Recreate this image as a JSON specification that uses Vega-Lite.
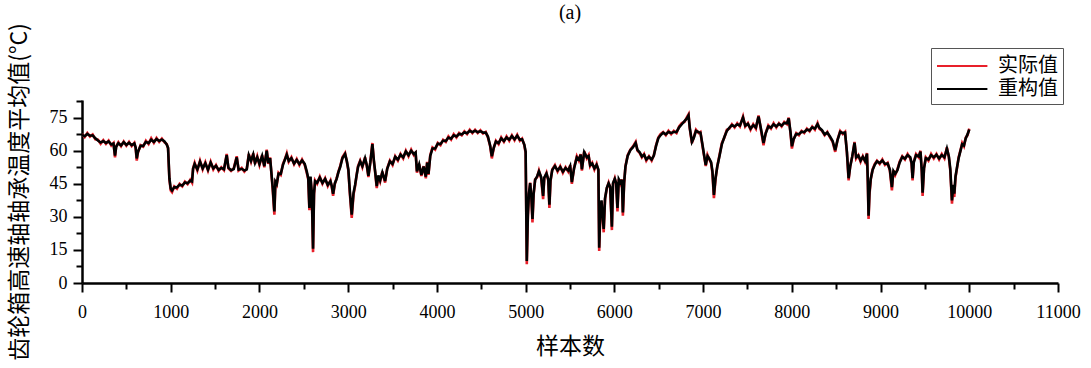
{
  "$schema": "https://vega.github.io/schema/vega-lite/v6.json",
  "width": 976,
  "height": 183,
  "autosize": {"type": "none"},
  "padding": {"left": 82, "top": 100, "right": 33, "bottom": 85},
  "background": "white",
  "title": {"text": "(a)", "fontSize": 20, "font": "Liberation Serif", "fontWeight": "normal", "frame": "group", "offset": 0, "anchor": "middle", "color": "#000"},
  "config": {
    "view": {"stroke": null},
    "axis": {"grid": false, "domainColor": "#000", "tickColor": "#000", "labelColor": "#000", "titleColor": "#000"}
  },
  "data": {"values": [
    {"x":0,"a":67.5,"r":67.2},{"x":30,"a":66.2,"r":66.6},{"x":60,"a":68.0,"r":67.6},{"x":90,"a":66.4,"r":66.8},{"x":120,"a":67.4,"r":67.0},{"x":150,"a":65.2,"r":65.6},{"x":180,"a":65.0,"r":64.6},{"x":210,"a":63.2,"r":63.7},{"x":240,"a":64.8,"r":64.4},{"x":270,"a":63.1,"r":63.5},{"x":300,"a":64.6,"r":64.2},{"x":330,"a":62.4,"r":62.8},{"x":355,"a":63.5,"r":63.2},{"x":372,"a":57.0,"r":57.8},{"x":385,"a":62.0,"r":61.8},{"x":410,"a":63.8,"r":63.4},{"x":440,"a":62.0,"r":62.4},{"x":470,"a":64.2,"r":63.9},{"x":500,"a":62.3,"r":62.6},{"x":530,"a":64.0,"r":63.6},{"x":560,"a":62.1,"r":62.5},{"x":590,"a":63.6,"r":63.3},{"x":605,"a":61.0,"r":61.4},{"x":617,"a":55.5,"r":56.5},{"x":630,"a":59.0,"r":59.4},{"x":660,"a":62.5,"r":62.2},{"x":690,"a":61.8,"r":62.2},{"x":720,"a":64.5,"r":64.0},{"x":750,"a":63.0,"r":63.4},{"x":780,"a":65.6,"r":65.0},{"x":810,"a":63.6,"r":64.0},{"x":840,"a":65.8,"r":65.3},{"x":870,"a":64.0,"r":64.4},{"x":900,"a":65.5,"r":65.1},{"x":930,"a":63.8,"r":64.2},{"x":955,"a":63.0,"r":62.8},{"x":970,"a":61.0,"r":61.3},{"x":985,"a":47.0,"r":47.5},{"x":1000,"a":42.0,"r":42.8},{"x":1015,"a":41.2,"r":42.0},{"x":1040,"a":43.8,"r":43.5},{"x":1070,"a":42.8,"r":43.4},{"x":1100,"a":45.0,"r":44.6},{"x":1130,"a":43.8,"r":44.2},{"x":1160,"a":46.0,"r":45.6},{"x":1190,"a":44.8,"r":45.2},{"x":1220,"a":46.8,"r":46.4},{"x":1240,"a":45.5,"r":46.0},{"x":1252,"a":52.0,"r":51.8},{"x":1270,"a":54.5,"r":54.0},{"x":1300,"a":51.0,"r":51.5},{"x":1330,"a":55.5,"r":55.0},{"x":1360,"a":51.5,"r":52.0},{"x":1390,"a":54.8,"r":54.3},{"x":1420,"a":51.0,"r":51.4},{"x":1450,"a":55.0,"r":54.6},{"x":1480,"a":51.5,"r":52.0},{"x":1510,"a":53.5,"r":53.2},{"x":1540,"a":50.8,"r":51.3},{"x":1570,"a":52.5,"r":52.2},{"x":1600,"a":51.2,"r":51.6},{"x":1631,"a":58.5,"r":58.0},{"x":1650,"a":52.0,"r":52.3},{"x":1680,"a":50.8,"r":51.2},{"x":1710,"a":52.0,"r":51.7},{"x":1744,"a":57.5,"r":57.0},{"x":1765,"a":51.0,"r":51.4},{"x":1800,"a":52.2,"r":51.8},{"x":1830,"a":50.5,"r":51.0},{"x":1857,"a":51.8,"r":51.5},{"x":1880,"a":58.5,"r":58.0},{"x":1905,"a":55.0,"r":55.4},{"x":1930,"a":58.8,"r":58.3},{"x":1950,"a":54.0,"r":54.5},{"x":1975,"a":57.5,"r":57.0},{"x":2000,"a":53.5,"r":54.0},{"x":2030,"a":58.0,"r":57.6},{"x":2055,"a":52.5,"r":53.0},{"x":2082,"a":60.5,"r":60.0},{"x":2100,"a":54.0,"r":54.4},{"x":2120,"a":57.0,"r":56.6},{"x":2140,"a":47.0,"r":47.6},{"x":2150,"a":42.0,"r":43.0},{"x":2168,"a":31.0,"r":32.5},{"x":2180,"a":45.5,"r":46.0},{"x":2195,"a":44.5,"r":45.0},{"x":2215,"a":50.0,"r":49.6},{"x":2240,"a":49.0,"r":49.5},{"x":2265,"a":54.0,"r":53.6},{"x":2290,"a":56.5,"r":56.2},{"x":2308,"a":58.8,"r":58.2},{"x":2330,"a":55.0,"r":55.4},{"x":2360,"a":57.0,"r":56.6},{"x":2390,"a":53.8,"r":54.2},{"x":2420,"a":56.2,"r":55.8},{"x":2450,"a":53.5,"r":54.0},{"x":2480,"a":56.0,"r":55.6},{"x":2510,"a":53.5,"r":54.0},{"x":2533,"a":50.0,"r":50.6},{"x":2550,"a":47.0,"r":47.5},{"x":2563,"a":33.0,"r":34.0},{"x":2575,"a":48.0,"r":48.3},{"x":2590,"a":40.0,"r":41.0},{"x":2604,"a":14.0,"r":15.5},{"x":2615,"a":40.0,"r":40.8},{"x":2627,"a":46.5,"r":46.2},{"x":2650,"a":45.0,"r":45.5},{"x":2680,"a":48.2,"r":47.8},{"x":2710,"a":45.0,"r":45.4},{"x":2740,"a":47.5,"r":47.2},{"x":2770,"a":44.0,"r":44.5},{"x":2800,"a":46.5,"r":46.2},{"x":2815,"a":43.5,"r":44.0},{"x":2830,"a":39.5,"r":40.5},{"x":2850,"a":45.0,"r":45.3},{"x":2870,"a":47.5,"r":47.2},{"x":2890,"a":50.5,"r":50.3},{"x":2910,"a":53.0,"r":52.6},{"x":2935,"a":57.0,"r":56.6},{"x":2965,"a":59.0,"r":58.5},{"x":2985,"a":55.0,"r":55.3},{"x":3002,"a":51.0,"r":51.5},{"x":3020,"a":40.0,"r":41.0},{"x":3040,"a":29.5,"r":31.0},{"x":3060,"a":40.0,"r":40.8},{"x":3078,"a":44.0,"r":44.5},{"x":3095,"a":49.0,"r":48.8},{"x":3111,"a":53.0,"r":52.6},{"x":3135,"a":55.5,"r":55.2},{"x":3160,"a":52.5,"r":53.0},{"x":3190,"a":57.0,"r":56.6},{"x":3210,"a":53.0,"r":53.4},{"x":3228,"a":48.0,"r":48.6},{"x":3250,"a":55.0,"r":54.8},{"x":3273,"a":63.5,"r":63.0},{"x":3290,"a":55.0,"r":55.4},{"x":3303,"a":50.5,"r":51.0},{"x":3322,"a":43.0,"r":44.0},{"x":3340,"a":48.5,"r":48.8},{"x":3360,"a":46.0,"r":46.5},{"x":3385,"a":50.5,"r":50.2},{"x":3416,"a":45.5,"r":46.2},{"x":3440,"a":52.0,"r":51.8},{"x":3470,"a":55.5,"r":55.2},{"x":3500,"a":53.5,"r":54.0},{"x":3530,"a":57.5,"r":57.2},{"x":3560,"a":55.5,"r":56.0},{"x":3590,"a":58.5,"r":58.2},{"x":3620,"a":56.5,"r":57.0},{"x":3650,"a":60.0,"r":59.6},{"x":3680,"a":57.5,"r":58.0},{"x":3710,"a":60.5,"r":60.0},{"x":3740,"a":58.0,"r":58.5},{"x":3760,"a":59.0,"r":59.2},{"x":3775,"a":50.0,"r":50.6},{"x":3800,"a":54.0,"r":53.8},{"x":3825,"a":48.5,"r":49.0},{"x":3850,"a":53.0,"r":52.8},{"x":3875,"a":47.5,"r":48.2},{"x":3890,"a":55.0,"r":54.6},{"x":3905,"a":49.0,"r":49.5},{"x":3925,"a":58.0,"r":57.6},{"x":3950,"a":61.5,"r":61.0},{"x":3980,"a":60.5,"r":61.0},{"x":4010,"a":63.5,"r":63.2},{"x":4040,"a":62.5,"r":63.0},{"x":4070,"a":65.0,"r":64.6},{"x":4100,"a":64.0,"r":64.4},{"x":4130,"a":66.5,"r":66.0},{"x":4160,"a":65.0,"r":65.5},{"x":4190,"a":67.5,"r":67.0},{"x":4220,"a":66.0,"r":66.5},{"x":4250,"a":68.0,"r":67.6},{"x":4280,"a":67.0,"r":67.4},{"x":4310,"a":68.8,"r":68.4},{"x":4340,"a":67.5,"r":67.9},{"x":4370,"a":69.5,"r":69.0},{"x":4400,"a":68.0,"r":68.4},{"x":4430,"a":69.5,"r":69.1},{"x":4460,"a":68.0,"r":68.4},{"x":4490,"a":69.3,"r":68.9},{"x":4520,"a":67.8,"r":68.2},{"x":4550,"a":68.5,"r":68.2},{"x":4575,"a":66.0,"r":66.4},{"x":4600,"a":62.0,"r":62.4},{"x":4619,"a":56.5,"r":57.5},{"x":4640,"a":61.0,"r":61.3},{"x":4665,"a":64.5,"r":64.2},{"x":4695,"a":63.0,"r":63.4},{"x":4725,"a":66.0,"r":65.6},{"x":4755,"a":64.0,"r":64.4},{"x":4785,"a":66.5,"r":66.0},{"x":4815,"a":64.5,"r":65.0},{"x":4845,"a":67.0,"r":66.6},{"x":4875,"a":64.8,"r":65.2},{"x":4905,"a":67.2,"r":66.8},{"x":4935,"a":64.5,"r":65.0},{"x":4960,"a":65.5,"r":65.2},{"x":4985,"a":62.5,"r":62.8},{"x":5000,"a":59.0,"r":59.6},{"x":5013,"a":8.5,"r":10.0},{"x":5025,"a":30.0,"r":31.0},{"x":5037,"a":40.0,"r":40.5},{"x":5051,"a":45.5,"r":45.3},{"x":5065,"a":38.0,"r":38.8},{"x":5077,"a":27.5,"r":29.0},{"x":5090,"a":40.0,"r":40.6},{"x":5107,"a":47.0,"r":46.8},{"x":5130,"a":48.0,"r":48.4},{"x":5150,"a":51.0,"r":50.6},{"x":5175,"a":47.5,"r":48.0},{"x":5197,"a":38.0,"r":39.5},{"x":5210,"a":47.5,"r":47.8},{"x":5235,"a":50.0,"r":49.6},{"x":5255,"a":46.5,"r":47.0},{"x":5268,"a":34.0,"r":35.5},{"x":5280,"a":46.0,"r":46.5},{"x":5300,"a":51.5,"r":51.2},{"x":5330,"a":53.5,"r":53.0},{"x":5360,"a":50.5,"r":51.0},{"x":5390,"a":53.0,"r":52.6},{"x":5420,"a":50.0,"r":50.5},{"x":5450,"a":52.5,"r":52.2},{"x":5480,"a":50.5,"r":51.0},{"x":5502,"a":53.5,"r":53.0},{"x":5521,"a":45.0,"r":45.8},{"x":5545,"a":52.0,"r":51.8},{"x":5577,"a":57.5,"r":57.0},{"x":5600,"a":55.5,"r":56.0},{"x":5620,"a":58.5,"r":58.2},{"x":5634,"a":51.0,"r":51.6},{"x":5660,"a":59.8,"r":59.3},{"x":5690,"a":56.5,"r":57.0},{"x":5710,"a":58.0,"r":57.6},{"x":5727,"a":53.0,"r":53.4},{"x":5750,"a":54.5,"r":54.2},{"x":5775,"a":51.5,"r":52.0},{"x":5800,"a":54.0,"r":53.6},{"x":5820,"a":51.0,"r":51.5},{"x":5829,"a":14.5,"r":16.0},{"x":5840,"a":30.0,"r":31.0},{"x":5855,"a":37.0,"r":37.5},{"x":5870,"a":28.0,"r":29.0},{"x":5880,"a":23.0,"r":24.5},{"x":5895,"a":38.0,"r":38.5},{"x":5915,"a":43.0,"r":43.2},{"x":5935,"a":45.5,"r":45.2},{"x":5953,"a":43.0,"r":43.6},{"x":5972,"a":24.0,"r":25.5},{"x":5985,"a":45.0,"r":45.3},{"x":6005,"a":47.5,"r":47.2},{"x":6020,"a":45.0,"r":45.4},{"x":6035,"a":32.5,"r":34.0},{"x":6050,"a":47.0,"r":47.0},{"x":6070,"a":45.0,"r":45.5},{"x":6085,"a":47.0,"r":46.8},{"x":6096,"a":30.5,"r":32.0},{"x":6110,"a":45.0,"r":45.5},{"x":6125,"a":53.0,"r":52.8},{"x":6150,"a":58.0,"r":57.6},{"x":6180,"a":60.5,"r":60.2},{"x":6210,"a":62.0,"r":61.6},{"x":6240,"a":64.0,"r":63.5},{"x":6260,"a":60.0,"r":60.4},{"x":6285,"a":59.0,"r":59.3},{"x":6310,"a":57.0,"r":57.4},{"x":6335,"a":58.5,"r":58.2},{"x":6360,"a":55.5,"r":56.0},{"x":6390,"a":57.5,"r":57.2},{"x":6420,"a":55.5,"r":56.0},{"x":6445,"a":58.0,"r":57.8},{"x":6470,"a":62.5,"r":62.2},{"x":6495,"a":66.0,"r":65.6},{"x":6520,"a":67.5,"r":67.0},{"x":6550,"a":68.5,"r":68.2},{"x":6580,"a":67.0,"r":67.4},{"x":6610,"a":69.0,"r":68.6},{"x":6640,"a":67.5,"r":68.0},{"x":6670,"a":69.0,"r":68.6},{"x":6700,"a":68.0,"r":68.4},{"x":6730,"a":71.0,"r":70.6},{"x":6760,"a":72.5,"r":72.0},{"x":6790,"a":73.0,"r":73.4},{"x":6815,"a":75.0,"r":74.5},{"x":6836,"a":76.5,"r":76.0},{"x":6850,"a":70.0,"r":70.4},{"x":6874,"a":63.5,"r":64.0},{"x":6895,"a":66.0,"r":65.8},{"x":6920,"a":69.5,"r":69.0},{"x":6950,"a":68.0,"r":68.4},{"x":6970,"a":68.5,"r":68.2},{"x":6990,"a":63.0,"r":63.5},{"x":7010,"a":58.0,"r":58.4},{"x":7030,"a":53.0,"r":53.5},{"x":7050,"a":58.0,"r":57.6},{"x":7070,"a":56.0,"r":56.4},{"x":7090,"a":54.5,"r":54.8},{"x":7105,"a":50.0,"r":50.8},{"x":7122,"a":38.5,"r":40.0},{"x":7140,"a":47.0,"r":47.5},{"x":7160,"a":53.0,"r":52.8},{"x":7185,"a":58.0,"r":57.6},{"x":7212,"a":63.5,"r":63.0},{"x":7240,"a":66.0,"r":66.2},{"x":7268,"a":69.5,"r":69.0},{"x":7295,"a":70.0,"r":70.4},{"x":7325,"a":72.0,"r":71.6},{"x":7355,"a":70.5,"r":71.0},{"x":7385,"a":72.5,"r":72.0},{"x":7415,"a":71.0,"r":71.4},{"x":7450,"a":75.5,"r":75.0},{"x":7475,"a":71.0,"r":71.4},{"x":7505,"a":72.5,"r":72.2},{"x":7535,"a":69.5,"r":70.0},{"x":7565,"a":72.0,"r":71.6},{"x":7595,"a":70.0,"r":70.5},{"x":7625,"a":76.0,"r":75.5},{"x":7650,"a":70.0,"r":70.4},{"x":7681,"a":62.5,"r":63.5},{"x":7705,"a":68.0,"r":67.8},{"x":7735,"a":71.5,"r":71.0},{"x":7765,"a":70.0,"r":70.5},{"x":7795,"a":72.5,"r":72.0},{"x":7825,"a":70.5,"r":71.0},{"x":7855,"a":72.5,"r":72.2},{"x":7885,"a":71.0,"r":71.4},{"x":7915,"a":73.0,"r":72.6},{"x":7945,"a":72.0,"r":72.4},{"x":7965,"a":75.0,"r":74.6},{"x":7985,"a":68.0,"r":68.5},{"x":8001,"a":61.0,"r":62.0},{"x":8020,"a":65.0,"r":65.2},{"x":8050,"a":68.0,"r":67.6},{"x":8080,"a":67.0,"r":67.5},{"x":8110,"a":69.0,"r":68.6},{"x":8140,"a":68.0,"r":68.4},{"x":8170,"a":70.0,"r":69.6},{"x":8200,"a":68.8,"r":69.2},{"x":8230,"a":71.0,"r":70.6},{"x":8260,"a":69.5,"r":70.0},{"x":8290,"a":72.5,"r":72.0},{"x":8310,"a":70.0,"r":70.4},{"x":8340,"a":69.0,"r":69.3},{"x":8370,"a":67.0,"r":67.4},{"x":8400,"a":68.5,"r":68.2},{"x":8430,"a":66.0,"r":66.5},{"x":8460,"a":64.0,"r":64.4},{"x":8489,"a":59.5,"r":60.2},{"x":8515,"a":65.0,"r":64.8},{"x":8545,"a":69.0,"r":68.6},{"x":8575,"a":67.5,"r":68.0},{"x":8600,"a":68.5,"r":68.2},{"x":8621,"a":59.0,"r":59.5},{"x":8640,"a":46.5,"r":47.5},{"x":8658,"a":53.0,"r":52.8},{"x":8680,"a":57.0,"r":57.2},{"x":8707,"a":64.0,"r":63.6},{"x":8725,"a":56.5,"r":57.0},{"x":8750,"a":58.0,"r":57.8},{"x":8775,"a":55.0,"r":55.5},{"x":8800,"a":57.5,"r":57.2},{"x":8825,"a":55.0,"r":55.4},{"x":8847,"a":59.0,"r":58.6},{"x":8857,"a":45.0,"r":46.0},{"x":8865,"a":29.0,"r":30.5},{"x":8875,"a":40.0,"r":41.0},{"x":8890,"a":47.0,"r":47.3},{"x":8910,"a":51.5,"r":51.2},{"x":8935,"a":54.0,"r":53.6},{"x":8960,"a":55.5,"r":55.2},{"x":8990,"a":54.0,"r":54.4},{"x":9020,"a":56.0,"r":55.6},{"x":9050,"a":53.5,"r":54.0},{"x":9080,"a":54.5,"r":54.2},{"x":9105,"a":51.0,"r":51.5},{"x":9128,"a":42.0,"r":43.5},{"x":9145,"a":51.0,"r":50.8},{"x":9165,"a":49.0,"r":49.5},{"x":9190,"a":51.5,"r":51.2},{"x":9215,"a":55.0,"r":54.6},{"x":9245,"a":57.5,"r":57.2},{"x":9275,"a":56.0,"r":56.4},{"x":9305,"a":58.5,"r":58.0},{"x":9335,"a":56.5,"r":57.0},{"x":9350,"a":54.0,"r":54.4},{"x":9361,"a":46.5,"r":47.5},{"x":9375,"a":55.0,"r":54.8},{"x":9400,"a":58.5,"r":58.0},{"x":9430,"a":57.0,"r":57.4},{"x":9450,"a":60.0,"r":59.6},{"x":9465,"a":50.0,"r":50.8},{"x":9474,"a":39.5,"r":41.0},{"x":9490,"a":52.0,"r":52.0},{"x":9510,"a":57.0,"r":56.6},{"x":9540,"a":55.5,"r":56.0},{"x":9570,"a":58.5,"r":58.0},{"x":9600,"a":56.5,"r":57.0},{"x":9630,"a":58.5,"r":58.2},{"x":9660,"a":56.0,"r":56.5},{"x":9690,"a":58.5,"r":58.0},{"x":9720,"a":56.5,"r":57.0},{"x":9748,"a":61.5,"r":61.0},{"x":9770,"a":57.0,"r":57.4},{"x":9786,"a":51.0,"r":51.8},{"x":9805,"a":36.0,"r":37.5},{"x":9820,"a":44.0,"r":44.5},{"x":9831,"a":39.0,"r":40.5},{"x":9845,"a":48.0,"r":48.3},{"x":9861,"a":52.0,"r":52.2},{"x":9880,"a":57.0,"r":56.6},{"x":9900,"a":60.0,"r":59.8},{"x":9920,"a":63.5,"r":63.0},{"x":9940,"a":62.0,"r":62.4},{"x":9960,"a":66.0,"r":65.6},{"x":9980,"a":67.0,"r":67.4},{"x":10000,"a":70.0,"r":69.6}
  ]},
  "resolve": {"axis": {"x": "independent", "y": "independent"}},
  "layer": [
    {
      "mark": {"type": "line", "strokeWidth": 2.6, "clip": true},
      "encoding": {
        "x": {"field": "x", "type": "quantitative", "scale": {"domain": [0, 11000], "nice": false},
          "axis": {"orient": "bottom", "values": [500,1500,2500,3500,4500,5500,6500,7500,8500,9500,10500], "labels": false, "domain": false, "tickSize": 6, "tickWidth": 2, "title": null}},
        "y": {"field": "a", "type": "quantitative", "scale": {"domain": [0, 83], "nice": false},
          "axis": {"orient": "left", "values": [7.5,22.5,37.5,52.5,67.5,82.5], "labels": false, "domain": false, "tickSize": 6, "tickWidth": 2, "title": null}},
        "color": {"datum": "实际值", "type": "nominal",
          "scale": {"domain": ["实际值", "重构值"], "range": ["#e8202a", "#000000"]},
          "legend": {"orient": "none", "legendX": 849, "legendY": -52, "title": null,
            "symbolType": "M-1,0H3.2", "symbolSize": 576, "symbolStrokeWidth": 2,
            "labelFont": "Noto Sans CJK SC", "labelFontSize": 20, "labelColor": "#000", "labelOffset": 36,
            "strokeColor": "#555", "padding": 5, "rowPadding": 0, "fillColor": "white", "labelLimit": 200}}
      }
    },
    {
      "mark": {"type": "line", "strokeWidth": 2.6, "clip": true},
      "encoding": {
        "x": {"field": "x", "type": "quantitative",
          "axis": {"orient": "bottom", "values": [0,1000,2000,3000,4000,5000,6000,7000,8000,9000,10000,11000], "format": "d",
            "domainWidth": 2.5, "tickSize": 9, "tickWidth": 2, "labelFont": "Liberation Serif", "labelFontSize": 18, "labelPadding": 11,
            "labelFlush": false, "title": "样本数", "titleFont": "Noto Sans CJK SC", "titleFontSize": 23, "titleFontWeight": "normal", "titlePadding": 14}},
        "y": {"field": "r", "type": "quantitative",
          "axis": {"orient": "left", "values": [0,15,30,45,60,75],
            "domainWidth": 2.5, "tickSize": 9, "tickWidth": 2, "labelFont": "Liberation Serif", "labelFontSize": 18, "labelPadding": 6,
            "title": "齿轮箱高速轴轴承温度平均值(°C)", "titleFont": "Noto Sans CJK SC", "titleFontSize": 23, "titleFontWeight": "normal", "titlePadding": 18}},
        "color": {"datum": "重构值", "type": "nominal"}
      }
    }
  ]
}
